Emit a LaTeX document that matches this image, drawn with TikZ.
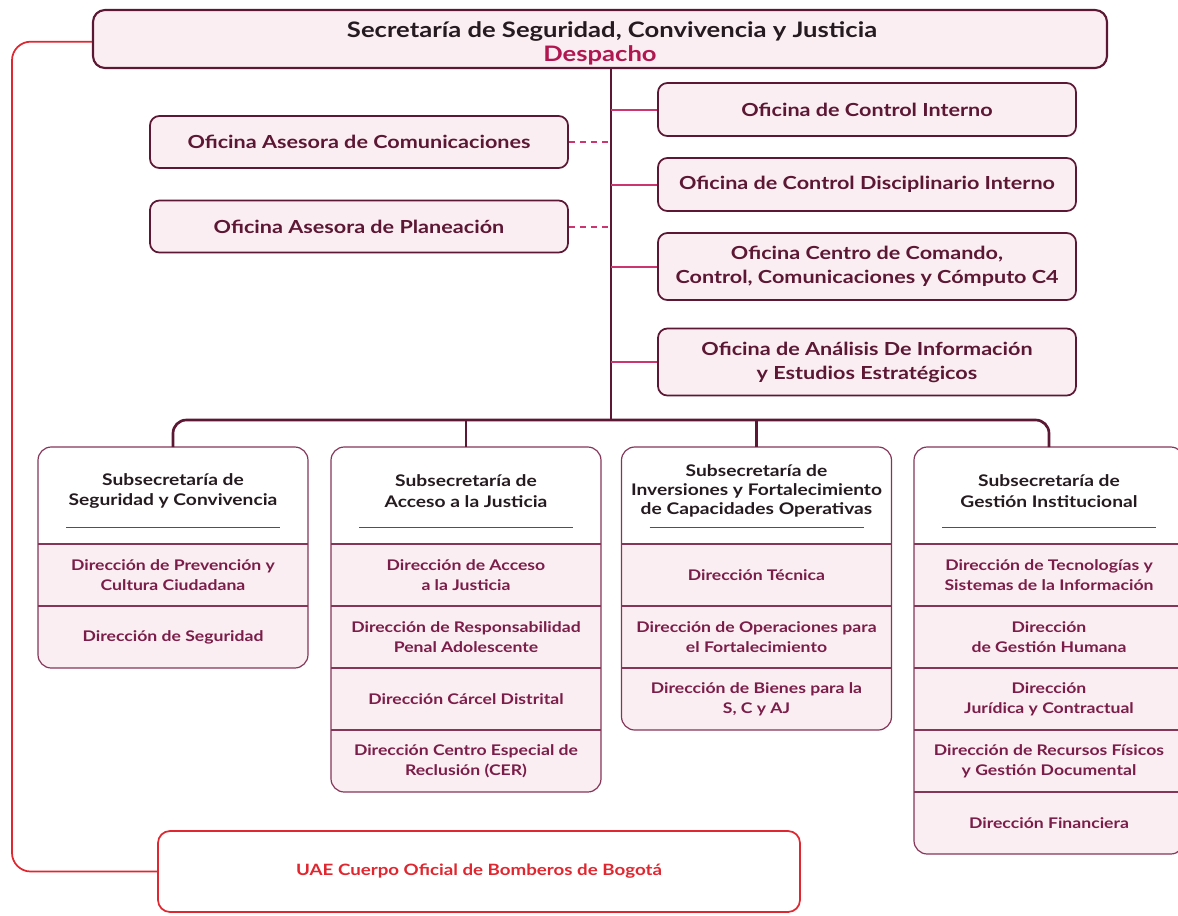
\documentclass[tikz,border=0pt]{standalone}
\usepackage{fontspec}
\setmainfont{Lato}[FakeStretch=1.2]
\usetikzlibrary{positioning}
\usetikzlibrary{backgrounds}

\definecolor{vino}{HTML}{5C1733}
\definecolor{vinomedio}{HTML}{843558}
\definecolor{rosado}{HTML}{FBEEF2}
\definecolor{fucsia}{HTML}{CC3570}
\definecolor{carmesi}{HTML}{B0174F}
\definecolor{rojo}{HTML}{E0262F}
\definecolor{tinta}{HTML}{241A1F}
\definecolor{letravino}{HTML}{7A1D48}

\tikzset{
  despacho/.style={draw=vino, line width=1.6pt, fill=rosado, rounded corners=9pt,
    minimum width=760.5pt, minimum height=43.5pt},
  titulo/.style={align=center, text=tinta, inner sep=0pt,
    font=\fontsize{16}{18}\selectfont\bfseries},
  oficina/.style={draw=vino, line width=1.3pt, fill=rosado, rounded corners=7pt,
    minimum width=313.5pt, minimum height=39.75pt, align=center, text=vino,
    font=\fontsize{13.5}{18}\selectfont\bfseries},
  cabeza/.style={minimum width=202.5pt, minimum height=66pt, align=center, text=tinta,
    inner sep=0pt, outer sep=0pt, font=\fontsize{12}{15.5}\selectfont\bfseries},
  fila/.style={minimum width=202.5pt, minimum height=46.5pt, align=center, text=letravino,
    inner sep=0pt, outer sep=0pt, font=\fontsize{11}{15}\selectfont\bfseries},
  bomberos/.style={draw=rojo, line width=1.3pt, fill=white, rounded corners=9pt,
    minimum width=481.5pt, minimum height=60.75pt, text=rojo,
    font=\fontsize{11.7}{15}\selectfont\bfseries},
  marco/.style={draw=vinomedio, line width=0.9pt, rounded corners=10pt},
  divisor/.style={draw=vinomedio, line width=0.9pt},
  tronco/.style={draw=vino, line width=2pt},
  rama/.style={draw=fucsia, line width=1.5pt},
  punteada/.style={draw=fucsia, line width=1.5pt, dash pattern=on 4.5pt off 3.75pt},
  enlace/.style={draw=rojo, line width=1.3pt, rounded corners=14pt}
}

\begin{document}
\begin{tikzpicture}[x=0.75pt, y=-0.75pt]
    \useasboundingbox (0,0) rectangle (1178,915);

    % despacho y oficinas
    \node[despacho] (despacho) at (600,39) {};
    \node[titulo, yshift=-3.4pt] (titulo) at (despacho) {\hspace{18pt}Secretaría de Seguridad, Convivencia y Justicia\\\textcolor{carmesi}{Despacho}};
    \node[oficina] (interno) at (867,109.5) {Oficina de Control Interno};
    \node[oficina] (disciplinario) at (867,184.5) {Oficina de Control Disciplinario Interno};
    \node[oficina, minimum height=50.25pt] (ccuatro) at (867,266.5) {Oficina Centro de Comando,\\Control, Comunicaciones y Cómputo C4};
    \node[oficina, minimum height=50.25pt] (analisis) at (867,362) {Oficina de Análisis De Información\\y Estudios Estratégicos};
    \node[oficina, minimum height=39pt] (comunicaciones) at (359,142) {Oficina Asesora de Comunicaciones};
    \node[oficina, minimum height=39pt] (planeacion) at (359,226.5) {Oficina Asesora de Planeación};

    % subsecretarias
    \node[cabeza] (seguridad) at (173,491) {Subsecretaría de\\Seguridad y Convivencia};
    \node[fila, below=6.75pt of seguridad] (prevencion) {Dirección de Prevención y\\Cultura Ciudadana};
    \node[fila, below=0pt of prevencion] (dirseguridad) {Dirección de Seguridad};

    \node[cabeza] (acceso) at (466,491) {Subsecretaría de\\Acceso a la Justicia};
    \node[fila, below=6.75pt of acceso] (diracceso) {Dirección de Acceso\\a la Justicia};
    \node[fila, below=0pt of diracceso] (penal) {Dirección de Responsabilidad\\Penal Adolescente};
    \node[fila, below=0pt of penal] (carcel) {Dirección Cárcel Distrital};
    \node[fila, below=0pt of carcel] (cer) {Dirección Centro Especial de\\Reclusión (CER)};

    \node[cabeza, font=\fontsize{12}{14}\selectfont\bfseries] (inversiones) at (756.5,491) {Subsecretaría de\\Inversiones y Fortalecimiento\\de Capacidades Operativas};
    \node[fila, below=6.75pt of inversiones] (tecnica) {Dirección Técnica};
    \node[fila, below=0pt of tecnica] (operaciones) {Dirección de Operaciones para\\el Fortalecimiento};
    \node[fila, below=0pt of operaciones] (bienes) {Dirección de Bienes para la\\S, C y AJ};

    \node[cabeza] (gestion) at (1049,491) {Subsecretaría de\\Gestión Institucional};
    \node[fila, below=6.75pt of gestion] (tecnologias) {Dirección de Tecnologías y\\Sistemas de la Información};
    \node[fila, below=0pt of tecnologias] (humana) {Dirección\\de Gestión Humana};
    \node[fila, below=0pt of humana] (juridica) {Dirección\\Jurídica y Contractual};
    \node[fila, below=0pt of juridica] (recursos) {Dirección de Recursos Físicos\\y Gestión Documental};
    \node[fila, below=0pt of recursos] (financiera) {Dirección Financiera};

    \node[bomberos] (bomberos) at (479,871.5) {UAE Cuerpo Oficial de Bomberos de Bogotá};

    % marcos de las subsecretarias
    \begin{scope}[on background layer]
        \foreach \h/\f/\l in {seguridad/prevencion/dirseguridad, acceso/diracceso/cer,
                              inversiones/tecnica/bienes, gestion/tecnologias/financiera} {
            \begin{scope}
                \clip[rounded corners=10pt] (\h.north west) rectangle (\l.south east);
                \fill[rosado] (\f.north west) rectangle (\l.south east);
            \end{scope}
        }
    \end{scope}
    \foreach \h/\l in {seguridad/dirseguridad, acceso/cer, inversiones/bienes, gestion/financiera} {
        \draw[marco] (\h.north west) rectangle (\l.south east);
        \draw[divisor, line width=0.7pt] ([xshift=21pt, yshift=6pt]\h.south west) -- ([xshift=-21pt, yshift=6pt]\h.south east);
    }
    \foreach \r in {prevencion,dirseguridad,diracceso,penal,carcel,cer,tecnica,operaciones,bienes,
                    tecnologias,humana,juridica,recursos,financiera}
        \draw[divisor] (\r.north west) -- (\r.north east);

    % conectores
    \coordinate (bus) at (611,420);
    \coordinate (esquina) at (12,500);
    \draw[tronco] (bus |- despacho.south) -- (bus);
    \foreach \o in {interno,disciplinario,ccuatro,analisis}
        \draw[rama] (bus |- \o.west) -- (\o.west);
    \foreach \o in {comunicaciones,planeacion}
        \draw[punteada] (\o.east) -- (\o.east -| bus);
    \draw[tronco, rounded corners=10pt] (seguridad.north) |- (bus) -| (gestion.north);
    \foreach \s in {acceso,inversiones}
        \draw[tronco] (\s.north) -- (\s.north |- bus);
    \draw[enlace] ([yshift=-2pt]despacho.west) -| (esquina) |- (bomberos.west);
\end{tikzpicture}
\end{document}
